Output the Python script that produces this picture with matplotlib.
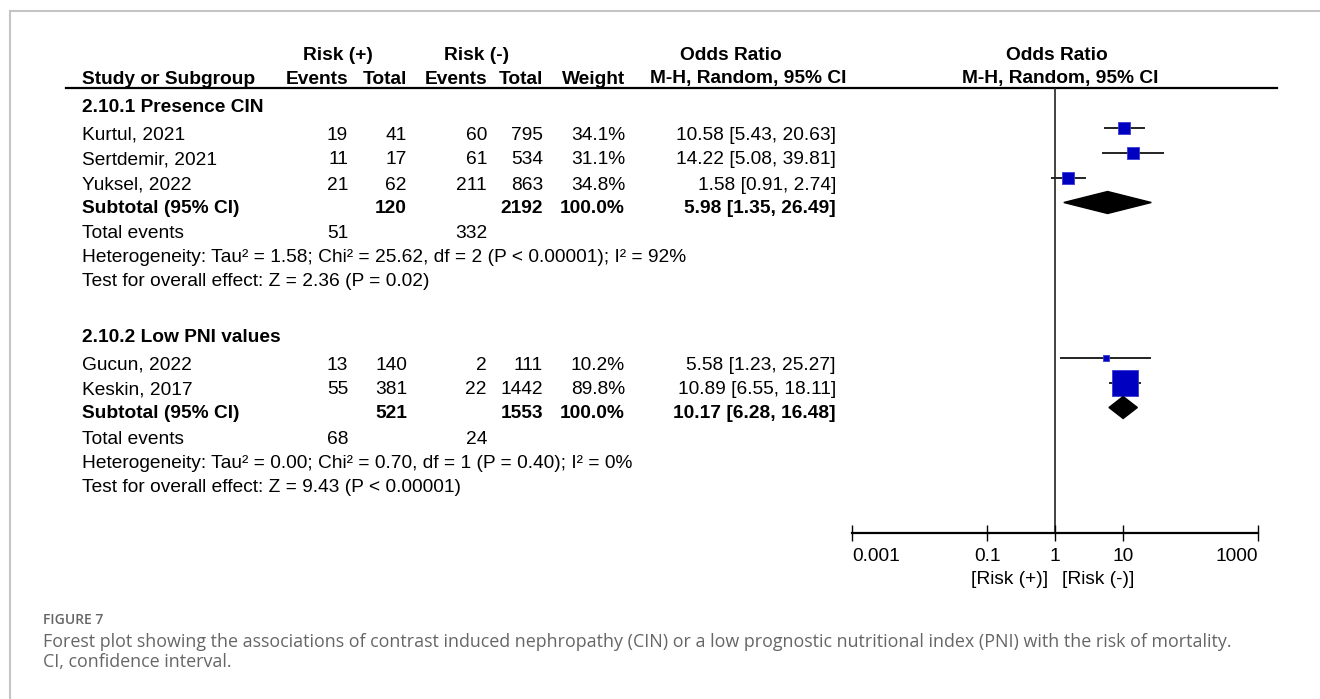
"""Forest plot: CIN / low PNI and risk of mortality (Figure 7)."""

import matplotlib

matplotlib.use("Agg")
import matplotlib.pyplot as plt
from matplotlib.ticker import NullLocator

OUTPUT_PATH = "out.png"

# 2.10.1 Presence CIN
CIN_STUDIES = ["Kurtul, 2021", "Sertdemir, 2021", "Yuksel, 2022"]
CIN_EVENTS_POS = [19, 11, 21]
CIN_TOTAL_POS = [41, 17, 62]
CIN_EVENTS_NEG = [60, 61, 211]
CIN_TOTAL_NEG = [795, 534, 863]
CIN_WEIGHT = [34.1, 31.1, 34.8]
CIN_OR = [10.58, 14.22, 1.58]
CIN_LOW = [5.43, 5.08, 0.91]
CIN_HIGH = [20.63, 39.81, 2.74]
CIN_POOLED = [5.98, 1.35, 26.49]
CIN_TOTALS = [120, 2192]
CIN_TOTAL_EVENTS = [51, 332]
CIN_HETEROGENEITY = "Heterogeneity: Tau² = 1.58; Chi² = 25.62, df = 2 (P < 0.00001); I² = 92%"
CIN_EFFECT = "Test for overall effect: Z = 2.36 (P = 0.02)"

# 2.10.2 Low PNI values
PNI_STUDIES = ["Gucun, 2022", "Keskin, 2017"]
PNI_EVENTS_POS = [13, 55]
PNI_TOTAL_POS = [140, 381]
PNI_EVENTS_NEG = [2, 22]
PNI_TOTAL_NEG = [111, 1442]
PNI_WEIGHT = [10.2, 89.8]
PNI_OR = [5.58, 10.89]
PNI_LOW = [1.23, 6.55]
PNI_HIGH = [25.27, 18.11]
PNI_POOLED = [10.17, 6.28, 16.48]
PNI_TOTALS = [521, 1553]
PNI_TOTAL_EVENTS = [68, 24]
PNI_HETEROGENEITY = "Heterogeneity: Tau² = 0.00; Chi² = 0.70, df = 1 (P = 0.40); I² = 0%"
PNI_EFFECT = "Test for overall effect: Z = 9.43 (P < 0.00001)"

X_TICKS = [0.001, 0.1, 1, 10, 1000]
X_TICK_LABELS = ["0.001", "0.1", "1", "10", "1000"]

# layout, in pixels of the 1320x699 canvas
W, H = 1320, 699
NAME_X, EV_POS_X, TOT_POS_X, EV_NEG_X, TOT_NEG_X, WEIGHT_X, OR_X = 82, 348, 407, 487, 543, 625, 836
PLOT_LEFT, PLOT_RIGHT, PLOT_TOP, PLOT_BOTTOM = 852, 1258, 88, 533
FS = 13.8
SQUARE = "#0000c0"


def fmt_ci(est, lo, hi):
    return f"{est:.2f} [{lo:.2f}, {hi:.2f}]"


def draw_group(tab, ax, y0, title, studies, ev_pos, tot_pos, ev_neg, tot_neg,
               weights, ors, lows, highs, pooled, totals, total_events, het, effect):
    tab.text(NAME_X, y0, title, fontsize=FS, fontweight="bold", va="center")
    ty = y0
    for i, name in enumerate(studies):
        ty = y0 + 28 + 25 * i
        tab.text(NAME_X, ty, name, fontsize=FS, va="center")
        tab.text(EV_POS_X, ty, str(ev_pos[i]), fontsize=FS, va="center", ha="right")
        tab.text(TOT_POS_X, ty, str(tot_pos[i]), fontsize=FS, va="center", ha="right")
        tab.text(EV_NEG_X, ty, str(ev_neg[i]), fontsize=FS, va="center", ha="right")
        tab.text(TOT_NEG_X, ty, str(tot_neg[i]), fontsize=FS, va="center", ha="right")
        tab.text(WEIGHT_X, ty, f"{weights[i]:.1f}%", fontsize=FS, va="center", ha="right")
        tab.text(OR_X, ty, fmt_ci(ors[i], lows[i], highs[i]), fontsize=FS, va="center", ha="right")

        # marker sits a little above the text line, as in the source figure
        my = ty - 7
        ax.plot([lows[i], highs[i]], [my, my], color="#222222", lw=1.4, zorder=2)
        side_px = 26 * (weights[i] / 89.8) ** 0.75
        ax.scatter([ors[i]], [my], marker="s", s=(side_px * 0.72) ** 2,
                   color=SQUARE, edgecolor="#3a3ad6", linewidth=0.6, zorder=3)

    ys = ty + 23.5
    tab.text(NAME_X, ys, "Subtotal (95% CI)", fontsize=FS, fontweight="bold", va="center")
    tab.text(TOT_POS_X, ys, str(totals[0]), fontsize=FS, fontweight="bold", va="center", ha="right")
    tab.text(TOT_NEG_X, ys, str(totals[1]), fontsize=FS, fontweight="bold", va="center", ha="right")
    tab.text(WEIGHT_X, ys, "100.0%", fontsize=FS, fontweight="bold", va="center", ha="right")
    tab.text(OR_X, ys, fmt_ci(*pooled), fontsize=FS, fontweight="bold", va="center", ha="right")
    est, lo, hi = pooled
    dy = ys - 6
    ax.fill([lo, est, hi, est], [dy, dy - 11, dy, dy + 11], color="black", zorder=3)

    yt = ys + 25.5
    tab.text(NAME_X, yt, "Total events", fontsize=FS, va="center")
    tab.text(EV_POS_X, yt, str(total_events[0]), fontsize=FS, va="center", ha="right")
    tab.text(EV_NEG_X, yt, str(total_events[1]), fontsize=FS, va="center", ha="right")
    tab.text(NAME_X, yt + 24, het, fontsize=FS, va="center")
    tab.text(NAME_X, yt + 48, effect, fontsize=FS, va="center")


def make_figure():
    plt.rcParams["font.family"] = ["Liberation Sans", "DejaVu Sans"]
    fig = plt.figure(figsize=(W / 100, H / 100), dpi=100)

    tab = fig.add_axes([0, 0, 1, 1])
    tab.set_xlim(0, W)
    tab.set_ylim(H, 0)
    tab.axis("off")

    ax = fig.add_axes([PLOT_LEFT / W, 1 - PLOT_BOTTOM / H,
                       (PLOT_RIGHT - PLOT_LEFT) / W, (PLOT_BOTTOM - PLOT_TOP) / H])
    ax.set_facecolor("none")
    ax.set_xscale("log")
    ax.set_xlim(0.001, 1000)
    ax.set_ylim(PLOT_BOTTOM, PLOT_TOP)

    # page frame
    tab.plot([10, W], [11, 11], color="#c4c4c4", lw=1.5)
    tab.plot([10, 10], [11, H], color="#c4c4c4", lw=1.5)

    # column headers
    gy, hy = 56, 79
    tab.text(338, gy, "Risk (+)", fontsize=FS, fontweight="bold", ha="center", va="center")
    tab.text(477, gy, "Risk (-)", fontsize=FS, fontweight="bold", ha="center", va="center")
    tab.text(731, gy, "Odds Ratio", fontsize=FS, fontweight="bold", ha="center", va="center")
    tab.text(1057, gy, "Odds Ratio", fontsize=FS, fontweight="bold", ha="center", va="center")
    tab.text(NAME_X, hy, "Study or Subgroup", fontsize=FS, fontweight="bold", va="center")
    for x, label in [(EV_POS_X, "Events"), (TOT_POS_X, "Total"), (EV_NEG_X, "Events"),
                     (TOT_NEG_X, "Total"), (WEIGHT_X, "Weight")]:
        tab.text(x, hy, label, fontsize=FS, fontweight="bold", ha="right", va="center")
    tab.text(748, hy, "M-H, Random, 95% CI", fontsize=FS, fontweight="bold", ha="center", va="center")
    tab.text(1060, hy, "M-H, Random, 95% CI", fontsize=FS, fontweight="bold", ha="center", va="center")
    tab.plot([66, 1277], [PLOT_TOP, PLOT_TOP], color="black", lw=1.6)

    draw_group(tab, ax, 107, "2.10.1 Presence CIN", CIN_STUDIES, CIN_EVENTS_POS, CIN_TOTAL_POS,
               CIN_EVENTS_NEG, CIN_TOTAL_NEG, CIN_WEIGHT, CIN_OR, CIN_LOW, CIN_HIGH,
               CIN_POOLED, CIN_TOTALS, CIN_TOTAL_EVENTS, CIN_HETEROGENEITY, CIN_EFFECT)
    draw_group(tab, ax, 337, "2.10.2 Low PNI values", PNI_STUDIES, PNI_EVENTS_POS, PNI_TOTAL_POS,
               PNI_EVENTS_NEG, PNI_TOTAL_NEG, PNI_WEIGHT, PNI_OR, PNI_LOW, PNI_HIGH,
               PNI_POOLED, PNI_TOTALS, PNI_TOTAL_EVENTS, PNI_HETEROGENEITY, PNI_EFFECT)

    # axis
    ax.axvline(1, color="#222222", lw=1.2, zorder=1)
    for side in ["top", "left", "right"]:
        ax.spines[side].set_visible(False)
    ax.spines["bottom"].set_linewidth(1.6)
    ax.set_yticks([])
    ax.set_xticks(X_TICKS, X_TICK_LABELS)
    ax.xaxis.set_minor_locator(NullLocator())
    ax.tick_params(axis="x", direction="inout", length=11, width=1.0, labelsize=FS, pad=5)
    labels = ax.get_xticklabels()
    labels[0].set_horizontalalignment("left")
    labels[-1].set_horizontalalignment("right")
    ax.annotate("[Risk (+)]", xy=(1, 0), xycoords=("data", "axes fraction"), xytext=(-7, -47),
                textcoords="offset pixels", ha="right", va="center", fontsize=FS)
    ax.annotate("[Risk (-)]", xy=(1, 0), xycoords=("data", "axes fraction"), xytext=(7, -47),
                textcoords="offset pixels", ha="left", va="center", fontsize=FS)

    # caption
    cap = ["Open Sans", "DejaVu Sans"]
    tab.text(43, 620, "FIGURE 7", fontsize=10, fontweight="semibold", color="#666666",
             family=cap, va="center")
    tab.text(43, 642, "Forest plot showing the associations of contrast induced nephropathy (CIN) "
             "or a low prognostic nutritional index (PNI) with the risk of mortality.",
             fontsize=12.9, color="#666666", family=cap, va="center")
    tab.text(43, 662, "CI, confidence interval.", fontsize=12.9, color="#666666", family=cap, va="center")

    fig.savefig(OUTPUT_PATH, dpi=100)
    plt.close(fig)
    return OUTPUT_PATH


if __name__ == "__main__":
    print(f"saved to {make_figure()}")
